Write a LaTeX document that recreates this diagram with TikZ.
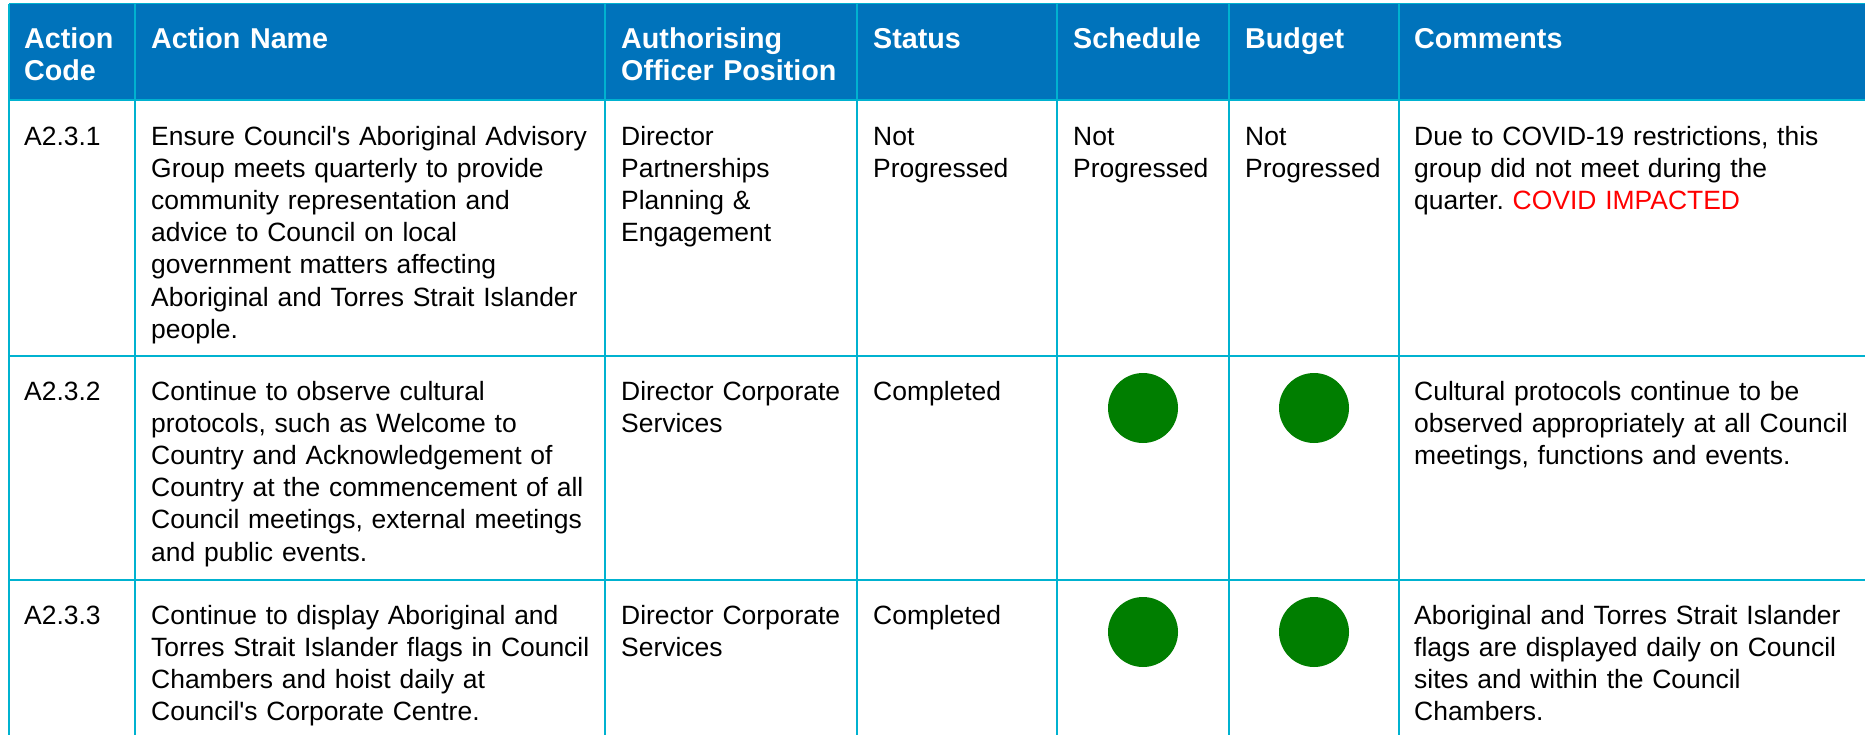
\documentclass[tikz,border=0pt]{standalone}
\usepackage{fontspec}
\newfontfamily\arial{Liberation Sans}
\definecolor{hdrblue}{RGB}{0,115,187}
\definecolor{gridcyan}{RGB}{0,178,208}
\definecolor{okgreen}{RGB}{0,126,0}
\definecolor{covidred}{RGB}{255,0,0}
\frenchspacing
\begin{document}
\begin{tikzpicture}[x=1pt,y=-1pt,
  hdr/.style={anchor=base west, inner sep=0pt, align=left, text width=480pt,
    text=white, font=\arial\bfseries\fontsize{28.7}{32.2}\selectfont},
  cell/.style={anchor=base west, inner sep=0pt, align=left, text width=480pt,
    text=black, font=\arial\fontsize{26.45}{32.2}\selectfont},
  dot/.style={circle, fill=okgreen, draw=none, minimum size=70pt, inner sep=0pt},
  grid/.style={draw=gridcyan, line width=1.4pt}]
\useasboundingbox (0,0) rectangle (1865,734);
\fill[white] (0,0) rectangle (1865,734);
\begin{scope}
\clip (0,0) rectangle (1865,734);
% header band
\fill[hdrblue] (9,3.5) rectangle (1870,100);
% grid lines
\foreach \yy in {3.5,100,356,580} \draw[grid] (9,\yy) -- (1870,\yy);
\foreach \xx in {9,135,605,857,1057,1229,1399} \draw[grid] (\xx,3.5) -- (\xx,740);
\end{scope}
% header texts
\node[hdr] (h1) at (24,48.5) {Action\\Code};
\node[hdr] (h2) at (151,48.5) {Action Name};
\node[hdr] (h3) at (621,48.5) {Authorising\\Officer Position};
\node[hdr] (h4) at (873,48.5) {Status};
\node[hdr] (h5) at (1073,48.5) {Schedule};
\node[hdr] (h6) at (1245,48.5) {Budget};
\node[hdr] (h7) at (1414,48.5) {Comments};
% row 1
\node[cell] (r1c1) at (24,145) {A2.3.1};
\node[cell] (r1c2) at (151,145) {Ensure Council's Aboriginal Advisory\\Group meets quarterly to provide\\community representation and\\advice to Council on local\\government matters affecting\\Aboriginal and Torres Strait Islander\\people.};
\node[cell] (r1c3) at (621,145) {Director\\Partnerships\\Planning \&\\Engagement};
\node[cell] (r1c4) at (873,145) {Not\\Progressed};
\node[cell] (r1c5) at (1073,145) {Not\\Progressed};
\node[cell] (r1c6) at (1245,145) {Not\\Progressed};
\node[cell] (r1c7) at (1414,145) {Due to COVID-19 restrictions, this\\group did not meet during the\\quarter. \textcolor{covidred}{COVID IMPACTED}};
% row 2
\node[cell] (r2c1) at (24,400) {A2.3.2};
\node[cell] (r2c2) at (151,400) {Continue to observe cultural\\protocols, such as Welcome to\\Country and Acknowledgement of\\Country at the commencement of all\\Council meetings, external meetings\\and public events.};
\node[cell] (r2c3) at (621,400) {Director Corporate\\Services};
\node[cell] (r2c4) at (873,400) {Completed};
\node[dot] (r2c5) at (1143,408) {};
\node[dot] (r2c6) at (1314,408) {};
\node[cell] (r2c7) at (1414,400) {Cultural protocols continue to be\\observed appropriately at all Council\\meetings, functions and events.};
% row 3
\node[cell] (r3c1) at (24,624) {A2.3.3};
\node[cell] (r3c2) at (151,624) {Continue to display Aboriginal and\\Torres Strait Islander flags in Council\\Chambers and hoist daily at\\Council's Corporate Centre.};
\node[cell] (r3c3) at (621,624) {Director Corporate\\Services};
\node[cell] (r3c4) at (873,624) {Completed};
\node[dot] (r3c5) at (1143,632) {};
\node[dot] (r3c6) at (1314,632) {};
\node[cell] (r3c7) at (1414,624) {Aboriginal and Torres Strait Islander\\flags are displayed daily on Council\\sites and within the Council\\Chambers.};
\end{tikzpicture}
\end{document}
